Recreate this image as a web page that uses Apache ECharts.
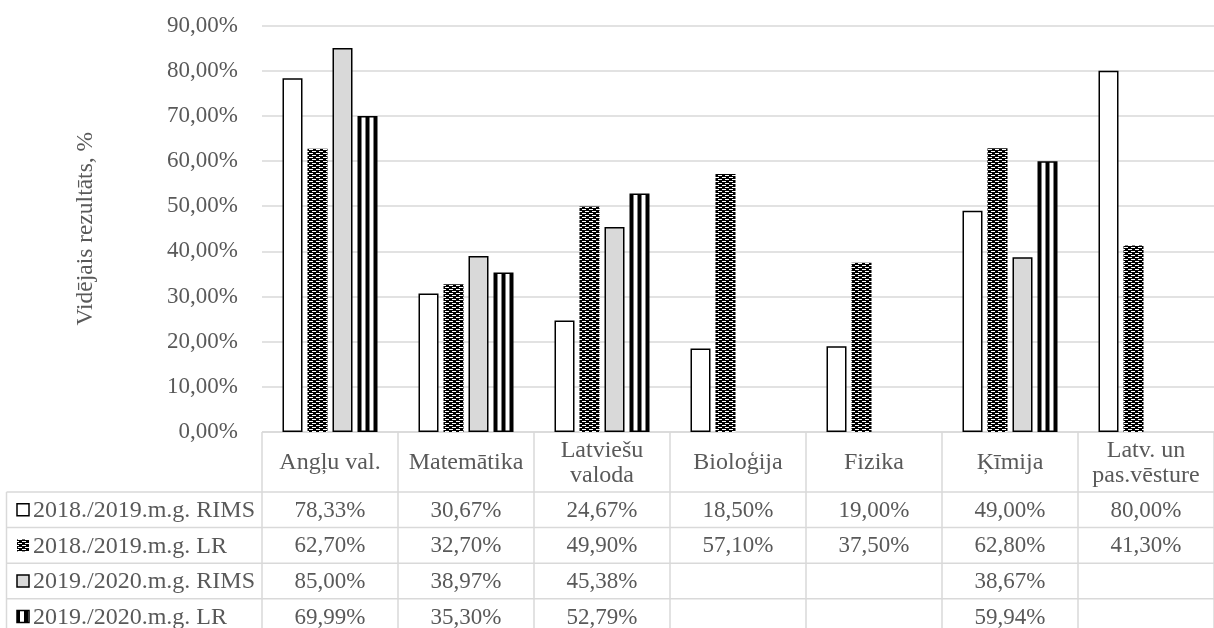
<!DOCTYPE html>
<html><head><meta charset="utf-8">
<script src="https://cdn.jsdelivr.net/npm/echarts@6/dist/echarts.min.js"></script>
<style>html,body{margin:0;padding:0;background:#fff}#c{width:1214px;height:628px}</style>
</head><body><div id="c"></div>
<script>
const categories = ['Angļu val.', 'Matemātika', 'Latviešu\nvaloda', 'Bioloģija', 'Fizika', 'Ķīmija', 'Latv. un\npas.vēsture'];
const seriesNames = ['2018./2019.m.g. RIMS', '2018./2019.m.g. LR', '2019./2020.m.g. RIMS', '2019./2020.m.g. LR'];
const rims1819 = [78.33, 30.67, 24.67, 18.50, 19.00, 49.00, 80.00];
const lr1819 = [62.70, 32.70, 49.90, 57.10, 37.50, 62.80, 41.30];
const rims1920 = [85.00, 38.97, 45.38, null, null, 38.67, null];
const lr1920 = [69.99, 35.30, 52.79, null, null, 59.94, null];
const yMin = 0, yMax = 90, yInterval = 10;
const yTitle = 'Vidējais rezultāts, %';

const FONT = '"Liberation Serif", "Times New Roman", serif';
const TXT = '#595959';
const LINE = '#d9d9d9';
const FS = 23;      // numbers
const FS_T = 24;    // words

function fmt(v){ return v == null ? '' : v.toFixed(2).replace('.', ',') + '%'; }

function checkerCanvas(){
  const c = document.createElement('canvas'); c.width = 7; c.height = 4;
  const g = c.getContext('2d');
  g.fillStyle = '#000'; g.fillRect(0,0,7,4);
  g.fillStyle = '#fff';
  g.fillRect(1,1,4,1);
  g.fillRect(4,3,3,1); g.fillRect(0,3,1,1);
  return c;
}
function stripeCanvas(){
  const c = document.createElement('canvas'); c.width = 8; c.height = 2;
  const g = c.getContext('2d');
  g.fillStyle = '#fff'; g.fillRect(0,0,8,2);
  g.fillStyle = '#000'; g.fillRect(0,0,4,2);
  return c;
}
const checker = checkerCanvas();
const stripe = stripeCanvas();
const checkerFill = {image: checker, repeat: 'repeat'};
const stripeFill = {image: stripe, repeat: 'repeat'};

const seriesData = [rims1819, lr1819, rims1920, lr1920];
const styles = [
  {color: '#ffffff', borderColor: '#000', borderWidth: 1.5},
  {color: checkerFill, borderWidth: 0},
  {color: '#d9d9d9', borderColor: '#000', borderWidth: 1.5},
  {color: stripeFill, borderColor: '#000', borderWidth: 1.5}
];

const chart = echarts.init(document.getElementById('c'), null, {renderer: 'canvas'});
const option = {
  animation: false,
  backgroundColor: '#fff',
  textStyle: {fontFamily: FONT},
  grid: {left: 262, right: -10.5, top: 25.5, bottom: 196},
  xAxis: {
    type: 'category', data: categories,
    axisLine: {show: false}, axisTick: {show: false}, axisLabel: {show: false}
  },
  yAxis: {
    type: 'value', min: yMin, max: yMax, interval: yInterval,
    name: yTitle, nameLocation: 'middle', nameGap: 164,
    nameTextStyle: {fontFamily: FONT, fontSize: 23.5, color: TXT},
    axisLine: {show: false}, axisTick: {show: false},
    axisLabel: {formatter: v => fmt(v), fontFamily: FONT, fontSize: FS, color: TXT, margin: 24},
    splitLine: {lineStyle: {color: LINE, width: 1.5}}
  },
  series: seriesData.map((d, i) => ({
    type: 'bar', name: seriesNames[i], data: d,
    barWidth: 20, barGap: '25%',
    itemStyle: styles[i]
  }))
};
chart.setOption(option);

// align stripe pattern to each bar's left edge
try {
  const sd = chart.getModel().getSeriesByIndex(3).getData();
  const newData = lr1920.map((v, i) => {
    const l = sd.getItemLayout(i);
    if (v == null || !l) return v;
    return {value: v, itemStyle: {color: {image: stripe, repeat: 'repeat', x: Math.min(l.x, l.x + l.width), y: 0}}};
  });
  chart.setOption({series: [{}, {}, {}, {data: newData}]});
} catch (e) {}

// data table
const cx = categories.map((c, i) => chart.convertToPixel({xAxisIndex: 0}, i));
const half = (cx[1] - cx[0]) / 2;
const y0 = chart.convertToPixel({yAxisIndex: 0}, 0);
const headerH = 60, rowH = 35.6;
const tableLeft = 6.5;
const bottom = y0 + headerH + seriesNames.length * rowH;
const right = cx[cx.length - 1] + half;
const g = [];
const lineStyle = {stroke: LINE, lineWidth: 1.5};
g.push({type: 'line', shape: {x1: cx[0] - half, y1: y0, x2: right, y2: y0}, style: lineStyle, silent: true});
for (let k = 0; k <= seriesNames.length; k++) {
  const y = y0 + headerH + k * rowH;
  g.push({type: 'line', shape: {x1: tableLeft, y1: y, x2: right, y2: y}, style: lineStyle, silent: true});
}
for (let i = 0; i <= categories.length; i++) {
  const x = cx[0] - half + i * 2 * half;
  g.push({type: 'line', shape: {x1: x, y1: y0, x2: x, y2: bottom}, style: lineStyle, silent: true});
}
g.push({type: 'line', shape: {x1: tableLeft, y1: y0 + headerH, x2: tableLeft, y2: bottom}, style: lineStyle, silent: true});

categories.forEach((c, i) => {
  g.push({type: 'text', x: cx[i], y: y0 + headerH / 2 + 1, silent: true,
    style: {text: c, fill: TXT, font: FS_T + 'px ' + FONT, align: 'center', verticalAlign: 'middle', lineHeight: 25}});
});
seriesNames.forEach((n, k) => {
  const yc = y0 + headerH + k * rowH + rowH / 2;
  g.push({type: 'rect', shape: {x: 17, y: yc - 6, width: 12, height: 12}, silent: true,
    style: {fill: k === 1 ? checkerFill : (k === 3 ? stripeFill : styles[k].color), stroke: k === 1 ? null : '#000', lineWidth: 1.5}});
  g.push({type: 'text', x: 33, y: yc + 1, silent: true,
    style: {text: n, fill: TXT, font: FS_T + 'px ' + FONT, align: 'left', verticalAlign: 'middle'}});
  seriesData[k].forEach((v, i) => {
    g.push({type: 'text', x: cx[i], y: yc + 1, silent: true,
      style: {text: fmt(v), fill: TXT, font: FS + 'px ' + FONT, align: 'center', verticalAlign: 'middle'}});
  });
});
chart.setOption({graphic: {elements: g}});
</script></body></html>
